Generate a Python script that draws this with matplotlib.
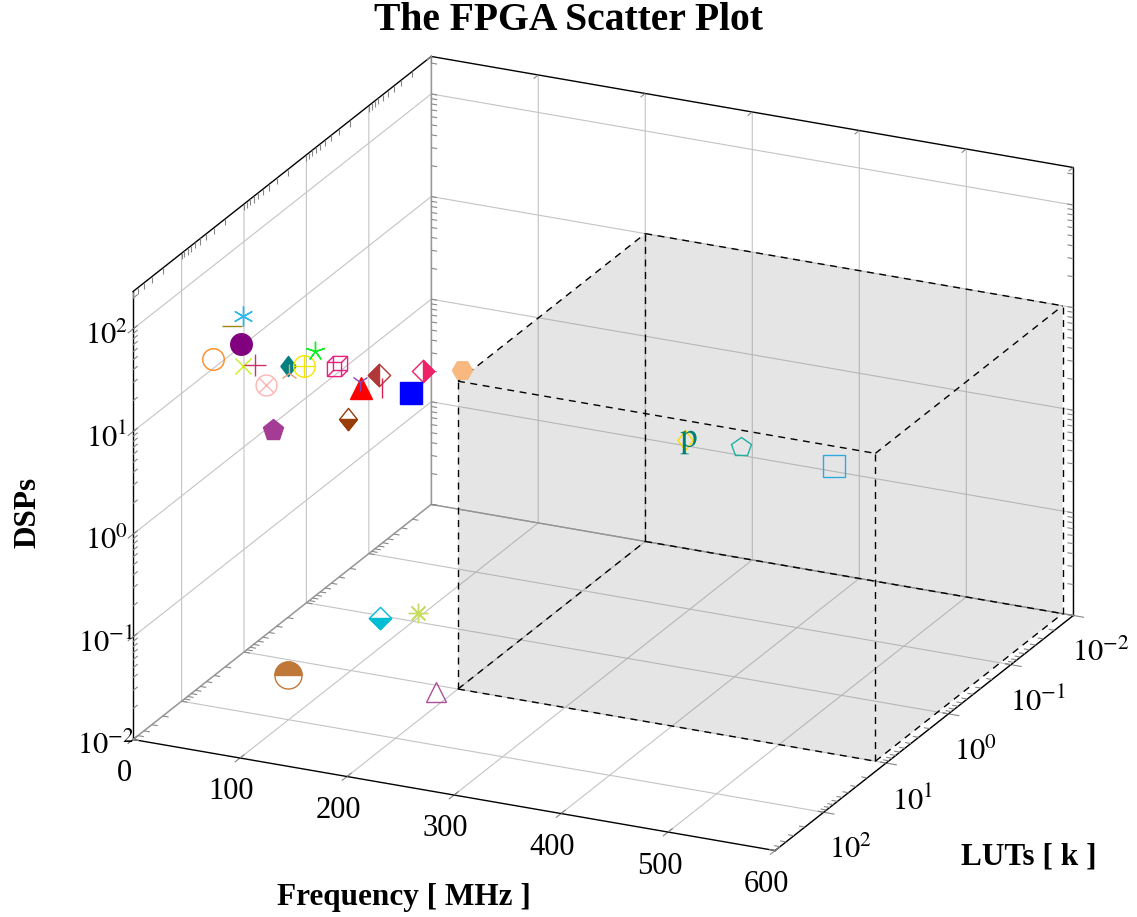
import numpy as np
import matplotlib
matplotlib.use('Agg')
import matplotlib.pyplot as plt
from matplotlib.path import Path
from mpl_toolkits.mplot3d import proj3d
from mpl_toolkits.mplot3d.art3d import Poly3DCollection, Line3DCollection

plt.rcParams['font.family'] = ['Liberation Serif', 'DejaVu Serif']
plt.rcParams['mathtext.fontset'] = 'stix'
plt.rcParams['grid.color'] = '#c4c4c4'
plt.rcParams['grid.linewidth'] = 0.8
for k in ('xtick', 'ytick'):
    plt.rcParams[k + '.color'] = '#888888'
    plt.rcParams[k + '.labelcolor'] = 'black'

# ── Data ──────────────────────────────────────────────────────────────────────
FREQ = [85, 75, 79, 57, 75, 86, 89, 117, 118, 132, 148, 96, 163, 185, 184,
        202, 205, 243, 225, 166, 262, 56, 71, 95, 186, 395, 397, 447, 534]
LUTS = [300, 300, 250, 300, 200, 200, 150, 200, 200, 200, 250, 150, 200, 200, 200,
        200, 200, 200, 150, 150, 100, 18, 1.1, 0.7, 13, 5, 5, 5, 5]
DSPS = [138, 106, 65, 46, 35, 38, 21, 42, 36, 45, 75, 8, 51, 34, 38.5,
        49, 36.5, 63, 31, 13.7, 50, 0.01, 0.01, 0.01, 0.01, 4.3, 4.2, 4.6, 4.25]
STYLES = ['asterisk', 'hline', 'circle_f', 'circle_o', 'x', 'plus', 'otimes',
          'diamond_f', 'tri_up', 'oplus', 'star', 'pentagon_f', 'cube',
          'triangle_f', 'tri_down', 'halfdiamond_l', 'vline', 'halfdiamond_r',
          'square_f', 'halfdiamond_bn', 'hexagon_f', 'halfcircle_t',
          'halfdiamond_b', 'star8', 'triangle_o', 'diamond_o', 'text_p',
          'pentagon_o', 'square_o']
COLORS = ['#2fb8ee', '#9c8812', '#800080', '#ff8a1e', '#c4f020', '#cc3366',
          '#ffb3b3', '#008080', '#e0a080', '#f5e600', '#11ee22', '#a43c96',
          '#e8207e', '#ff0000', '#8844bb', '#b03838', '#dd2050', '#ee2266',
          '#0000ff', '#983c08', '#f8b880', '#c07838', '#00bcd4', '#c8dc60',
          '#b0509a', '#ffd700', '#00806e', '#20b0a0', '#30a8e0']

# highlighted target region
BOX_FREQ = (200, 590)
BOX_LUTS = (0.01, 10)
BOX_DSPS = (0.01, 10)

FREQ_LIM = (0, 600)
LUT_LIM = (0.01, 600)
DSP_LIM = (0.01, 232)
FREQ_TICKS = [0, 100, 200, 300, 400, 500, 600]
LOG_TICKS = [-2, -1, 0, 1, 2]

# ── Custom mark shapes ───────────────────────────────────────────────────────
def closed(pts):
    return Path(list(pts) + [pts[0]], closed=True)

DIAM_N = closed([(0, 1), (0.75, 0), (0, -1), (-0.75, 0)])
DIAM_N8 = closed([(0, 1), (0.8, 0), (0, -1), (-0.8, 0)])
DIAM_W = closed([(0, 1), (1, 0), (0, -1), (-1, 0)])
HALF_L = closed([(0, 1), (-1, 0), (0, -1)])
HALF_R = closed([(0, 1), (1, 0), (0, -1)])
HALF_B = closed([(-1, 0), (1, 0), (0, -1)])
HALF_BN = closed([(-0.8, 0), (0.8, 0), (0, -1)])
_arc = Path.arc(0, 180)
HALF_C = Path(np.vstack([_arc.vertices, _arc.vertices[:1]]),
              np.concatenate([_arc.codes, [Path.CLOSEPOLY]]))
_f = [(-1, -1), (0.4, -1), (0.4, 0.4), (-1, 0.4)]
_b = [(x + 0.6, y + 0.6) for x, y in _f]
_v, _c = [], []
for sq in (_f, _b):
    _v += sq + [sq[0]]
    _c += [Path.MOVETO] + [Path.LINETO] * 4
for p, q in zip(_f, _b):
    _v += [p, q]
    _c += [Path.MOVETO, Path.LINETO]
CUBE = Path(_v, _c)

# style -> layers of (marker, size, face, edge width)
MARKS = {
    'asterisk': [((6, 2, 0), 14.5, 'none', 1.0)],
    'hline': [('_', 15, 'none', 1.0)],
    'circle_f': [('o', 15.5, 'fill', 1.0)],
    'circle_o': [('o', 15.5, 'none', 1.0)],
    'x': [('x', 11, 'none', 1.0)],
    'plus': [('+', 16, 'none', 1.0)],
    'otimes': [('o', 15, 'none', 1.0), ('x', 10.5, 'none', 1.0)],
    'diamond_f': [(DIAM_N, 14.5, 'fill', 1.0)],
    'tri_up': [('2', 13, 'none', 1.0)],
    'oplus': [('o', 15.5, 'none', 1.0), ('+', 15.5, 'none', 1.0)],
    'star': [((5, 2, 0), 14, 'none', 1.0)],
    'pentagon_f': [('p', 15.5, 'fill', 1.0)],
    'cube': [(CUBE, 14.5, 'none', 1.0)],
    'triangle_f': [('^', 16, 'fill', 1.0)],
    'tri_down': [('1', 13, 'none', 1.0)],
    'halfdiamond_l': [(DIAM_W, 16, 'white', 1.0), (HALF_L, 16, 'fill', 1.0)],
    'vline': [('|', 14, 'none', 1.0)],
    'halfdiamond_r': [(DIAM_W, 16, 'white', 1.0), (HALF_R, 16, 'fill', 1.0)],
    'square_f': [('s', 15.8, 'fill', 1.0)],
    'halfdiamond_bn': [(DIAM_N8, 16, 'white', 1.0), (HALF_BN, 16, 'fill', 1.0)],
    'hexagon_f': [('H', 14.5, 'fill', 1.0)],
    'halfcircle_t': [('o', 19.5, 'white', 1.0), (HALF_C, 19.5, 'fill', 1.0)],
    'halfdiamond_b': [(DIAM_W, 16, 'white', 1.0), (HALF_B, 16, 'fill', 1.0)],
    'star8': [((8, 2, 0), 14, 'none', 1.0)],
    'triangle_o': [('^', 13.7, 'none', 1.0)],
    'diamond_o': [(DIAM_N, 14.5, 'none', 1.0)],
    'text_p': [(r'$\mathrm{p}$', 17, 'fill', 0.0)],
    'pentagon_o': [('p', 14.5, 'none', 1.0)],
    'square_o': [('s', 15.8, 'none', 1.0)],
}

# ── Figure ────────────────────────────────────────────────────────────────────
fig = plt.figure(figsize=(11.37, 9.17), dpi=100)
ax = fig.add_axes([0.05, 0.05, 0.9, 0.9], projection='3d',
                  proj_type='ortho', computed_zorder=False)
ax.view_init(elev=21.67, azim=-64.9)
ax.set_box_aspect((709, 703, 482))

ax.set_xlim(*FREQ_LIM)
ax.set_ylim(-np.log10(LUT_LIM[1]), -np.log10(LUT_LIM[0]))
ax.set_zlim(np.log10(DSP_LIM[0]), np.log10(DSP_LIM[1]))
ax.set_xticks(FREQ_TICKS)
ax.set_yticks(LOG_TICKS, [f'$10^{{{-t}}}$' for t in LOG_TICKS])
ax.set_zticks(LOG_TICKS, [f'$10^{{{t}}}$' for t in LOG_TICKS])
ax.tick_params(axis='both', labelsize=22)
ax.tick_params(axis='y', pad=9)
ax.zaxis.set_ticks_position('lower')
for t in ax.zaxis.get_major_ticks():
    t.label1.set_va('center_baseline')

for a in (ax.xaxis, ax.yaxis, ax.zaxis):
    a.set_pane_color((1, 1, 1, 1))
    a.pane.set_edgecolor((1, 1, 1, 0))
    a.line.set_visible(False)

# box frame of the axes
x0, x1 = ax.get_xlim()
y0, y1 = ax.get_ylim()
z0, z1 = ax.get_zlim()
outer = [((x0, x0), (y0, y1), (z1, z1)), ((x0, x0), (y0, y0), (z0, z1)),
         ((x0, x1), (y1, y1), (z1, z1)), ((x1, x1), (y1, y1), (z0, z1)),
         ((x0, x1), (y0, y0), (z0, z0)), ((x1, x1), (y0, y1), (z0, z0))]
inner = [((x0, x0), (y1, y1), (z0, z1)), ((x0, x0), (y0, y1), (z0, z0)),
         ((x0, x1), (y1, y1), (z0, z0))]
for xs, ys, zs in outer:
    ax.plot(xs, ys, zs, color='black', lw=1.0, zorder=1)
for xs, ys, zs in inner:
    ax.plot(xs, ys, zs, color='#999999', lw=1.0, zorder=1)

# log tick marks (major + minor) on the box edges, as pgfplots draws them
def log_marks(lo, hi):
    out = []
    for d in range(int(np.floor(lo)), int(np.ceil(hi)) + 1):
        for m in range(1, 10):
            v = d + np.log10(m)
            if lo - 1e-9 <= v <= hi + 1e-9:
                out.append(v)
    return out

dx, dy, dz = 5.5, 0.075, 0.06
segs = []
for v in log_marks(z0, z1):
    segs += [[(x0, y0, v), (x0, y0 + dy, v)],
             [(x0, y1, v), (x0 + dx, y1, v)],
             [(x1, y1, v), (x1 - dx, y1, v)]]
# y axis is -log10(LUT): minor marks follow the LUT decades
for v in log_marks(-y1, -y0):
    v = -v
    segs += [[(x0, v, z0), (x0 + dx, v, z0)],
             [(x1, v, z0), (x1 - dx, v, z0)],
             [(x0, v, z1), (x0, v, z1 - dz)]]
for v in FREQ_TICKS:
    segs += [[(v, y0, z0), (v, y0 + dy, z0)],
             [(v, y1, z1), (v, y1 - dy, z1)]]
ax.add_collection3d(Line3DCollection(segs, colors='#888888', linewidths=0.8, zorder=1))

# shaded region
bx = BOX_FREQ
by = (-np.log10(BOX_LUTS[1]), -np.log10(BOX_LUTS[0]))
bz = (np.log10(BOX_DSPS[0]), np.log10(BOX_DSPS[1]))
faces = [
    [(bx[0], by[0], bz[0]), (bx[1], by[0], bz[0]), (bx[1], by[0], bz[1]), (bx[0], by[0], bz[1])],
    [(bx[0], by[0], bz[1]), (bx[1], by[0], bz[1]), (bx[1], by[1], bz[1]), (bx[0], by[1], bz[1])],
    [(bx[1], by[0], bz[0]), (bx[1], by[1], bz[0]), (bx[1], by[1], bz[1]), (bx[1], by[0], bz[1])],
]
ax.add_collection3d(Poly3DCollection(faces, facecolors=(0.5, 0.5, 0.5, 0.2),
                                     edgecolors='none', zorder=2))
for i in range(2):
    for j in range(2):
        ax.plot(bx, (by[i], by[i]), (bz[j], bz[j]), color='black', lw=1.0, ls=(0, (5, 4)), zorder=3)
        ax.plot((bx[i], bx[i]), by, (bz[j], bz[j]), color='black', lw=1.0, ls=(0, (5, 4)), zorder=3)
        ax.plot((bx[i], bx[i]), (by[j], by[j]), bz, color='black', lw=1.0, ls=(0, (5, 4)), zorder=3)

# scatter marks
ly = -np.log10(LUTS)
lz = np.log10(DSPS)
for i, (f, yv, zv, st, col) in enumerate(zip(FREQ, ly, lz, STYLES, COLORS)):
    for mk, ms, face, ew in MARKS[st]:
        fc = {'fill': col, 'none': 'none', 'white': 'white'}[face]
        ax.plot([f], [yv], [zv], linestyle='none', marker=mk, ms=ms,
                mfc=fc, mec=col, mew=ew, zorder=5 + i)

# ── place the projected box where the reference has it ───────────────────────
fig.canvas.draw()
W, H = fig.bbox.width, fig.bbox.height


def to_px(x, y, z):
    xs, ys, _ = proj3d.proj_transform(x, y, z, ax.M)
    return np.array(ax.transData.transform((xs, ys)))


pa = to_px(x0, y0, z0)
pb = to_px(x1, y1, z1)
ta = np.array([133, H - 739.5])
tb = np.array([1073, H - 167])
k = np.linalg.norm(tb - ta) / np.linalg.norm(pb - pa)
bb = ax.bbox
c = np.array([(bb.x0 + bb.x1) / 2, (bb.y0 + bb.y1) / 2])
s = bb.width * k
cn = ta - k * (pa - c)
ax.set_position([(cn[0] - s / 2) / W, (cn[1] - s / 2) / H, s / W, s / H])

# titles and axis labels
fig.text(568 / W, 1 - 20 / H, 'The FPGA Scatter Plot', ha='center', va='center',
         fontsize=28.5, fontweight='bold')
fig.text(404 / W, 1 - 897 / H, 'Frequency [ MHz ]', ha='center', va='center',
         fontsize=22.5, fontweight='bold')
fig.text(1029 / W, 1 - 857 / H, 'LUTs [ k ]', ha='center', va='center',
         fontsize=22.5, fontweight='bold')
fig.text(28 / W, 1 - 512 / H, 'DSPs', ha='center', va='center', rotation=90,
         fontsize=22.5, fontweight='bold')

fig.savefig('out.png', dpi=100)
